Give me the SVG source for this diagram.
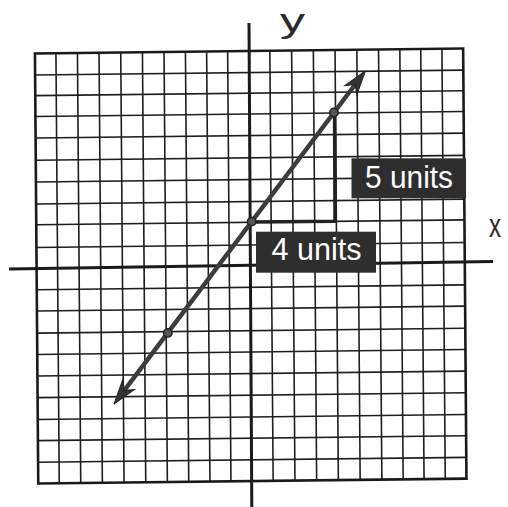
<svg xmlns="http://www.w3.org/2000/svg" width="508" height="507" viewBox="0 0 508 507">
  <style>
    .grid { fill: none; stroke: #1e1e1e; stroke-width: 1.6; }
    .border { fill: none; stroke: #1a1a1a; stroke-width: 2.6; }
    .axis { fill: none; stroke: #1a1a1a; stroke-width: 3; stroke-linecap: butt; }
    .axlabel { font-family: "Liberation Sans", Arial, sans-serif; font-size: 34px; fill: #2a2a2a; }
    .box { fill: #2e2e2e; }
    .boxtext { font-family: "Liberation Sans", Arial, sans-serif; font-size: 32px; fill: #ffffff; }
    .leg { fill: none; stroke: #222; stroke-width: 3.5; stroke-linejoin: miter; }
    .graph { fill: none; stroke: #3c3c3c; stroke-width: 4.5; stroke-linecap: butt; }
    .dot { fill: #555; stroke: #222; stroke-width: 1.5; }
  </style>
  <defs>
    <marker id="arrow" viewBox="-30 -10 30 20" refX="-10" refY="0" markerWidth="30" markerHeight="20" markerUnits="userSpaceOnUse" orient="auto-start-reverse">
      <path d="M0,0 L-24,-7.5 L-17,0 L-24,7.5 Z" fill="#333" stroke="#222" stroke-width="1"/>
    </marker>
  </defs>
  <rect x="0" y="0" width="508" height="507" fill="#ffffff"/>

  <g id="grid" transform="matrix(1,-0.0115,0.0077,1,-2.052,2.875)">
    <path class="grid" d="M57.6 51V481.1M79.1 51V481.1M100.7 51V481.1M122.4 51V481.1M144.1 51V481.1M165.7 51V481.1M187.1 51V481.1M208.3 51V481.1M229.3 51V481.1M271.5 51V481.1M293.3 51V481.1M315 51V481.1M336.7 51V481.1M358.5 51V481.1M380.2 51V481.1M401.5 51V481.1M422.4 51V481.1M443.6 51V481.1"/>
    <path class="grid" d="M36.6 72.6H464.8M36.6 93.2H464.8M36.6 114H464.8M36.6 135.6H464.8M36.6 157.8H464.8M36.6 179.6H464.8M36.6 201.6H464.8M36.6 222.3H464.8M36.6 245H464.8M36.6 287.3H464.8M36.6 308.6H464.8M36.6 330.7H464.8M36.6 352H464.8M36.6 373.6H464.8M36.6 395.2H464.8M36.6 417H464.8M36.6 438.2H464.8M36.6 459.8H464.8"/>
    <rect class="border" x="36.6" y="51" width="428.2" height="430.1"/>
  </g>

  <g id="axes">
    <path class="axis" d="M9 269L493 261.5"/>
    <path class="axis" d="M249 23L251.8 507"/>
  </g>

  <g id="axis-labels">
    <text class="axlabel" x="280" y="32" textLength="25" lengthAdjust="spacingAndGlyphs">y</text>
    <text class="axlabel" x="489" y="236.7" font-size="33" textLength="12" lengthAdjust="spacingAndGlyphs">x</text>
  </g>

  <g id="triangle">
    <path class="leg" d="M251.7 222L335 221.2L334.6 112.5"/>
  </g>

  <g id="connectors">
    <path id="graph-line" class="graph" d="M120 396.2L359.3 79" marker-start="url(#arrow)" marker-end="url(#arrow)"/>
    <circle class="dot" cx="167.8" cy="332.9" r="4.2"/>
    <circle class="dot" cx="251.7" cy="221.6" r="4.2"/>
    <circle class="dot" cx="334" cy="112.5" r="4.2"/>
  </g>

  <g id="label-5-units">
    <rect class="box" x="351.5" y="158.3" width="114.5" height="40"/>
    <text class="boxtext" x="365" y="187.5" textLength="88" lengthAdjust="spacingAndGlyphs">5 units</text>
  </g>

  <g id="label-4-units">
    <rect class="box" x="256" y="231.7" width="120" height="41"/>
    <text class="boxtext" x="271.5" y="260" textLength="90" lengthAdjust="spacingAndGlyphs">4 units</text>
  </g>
</svg>
